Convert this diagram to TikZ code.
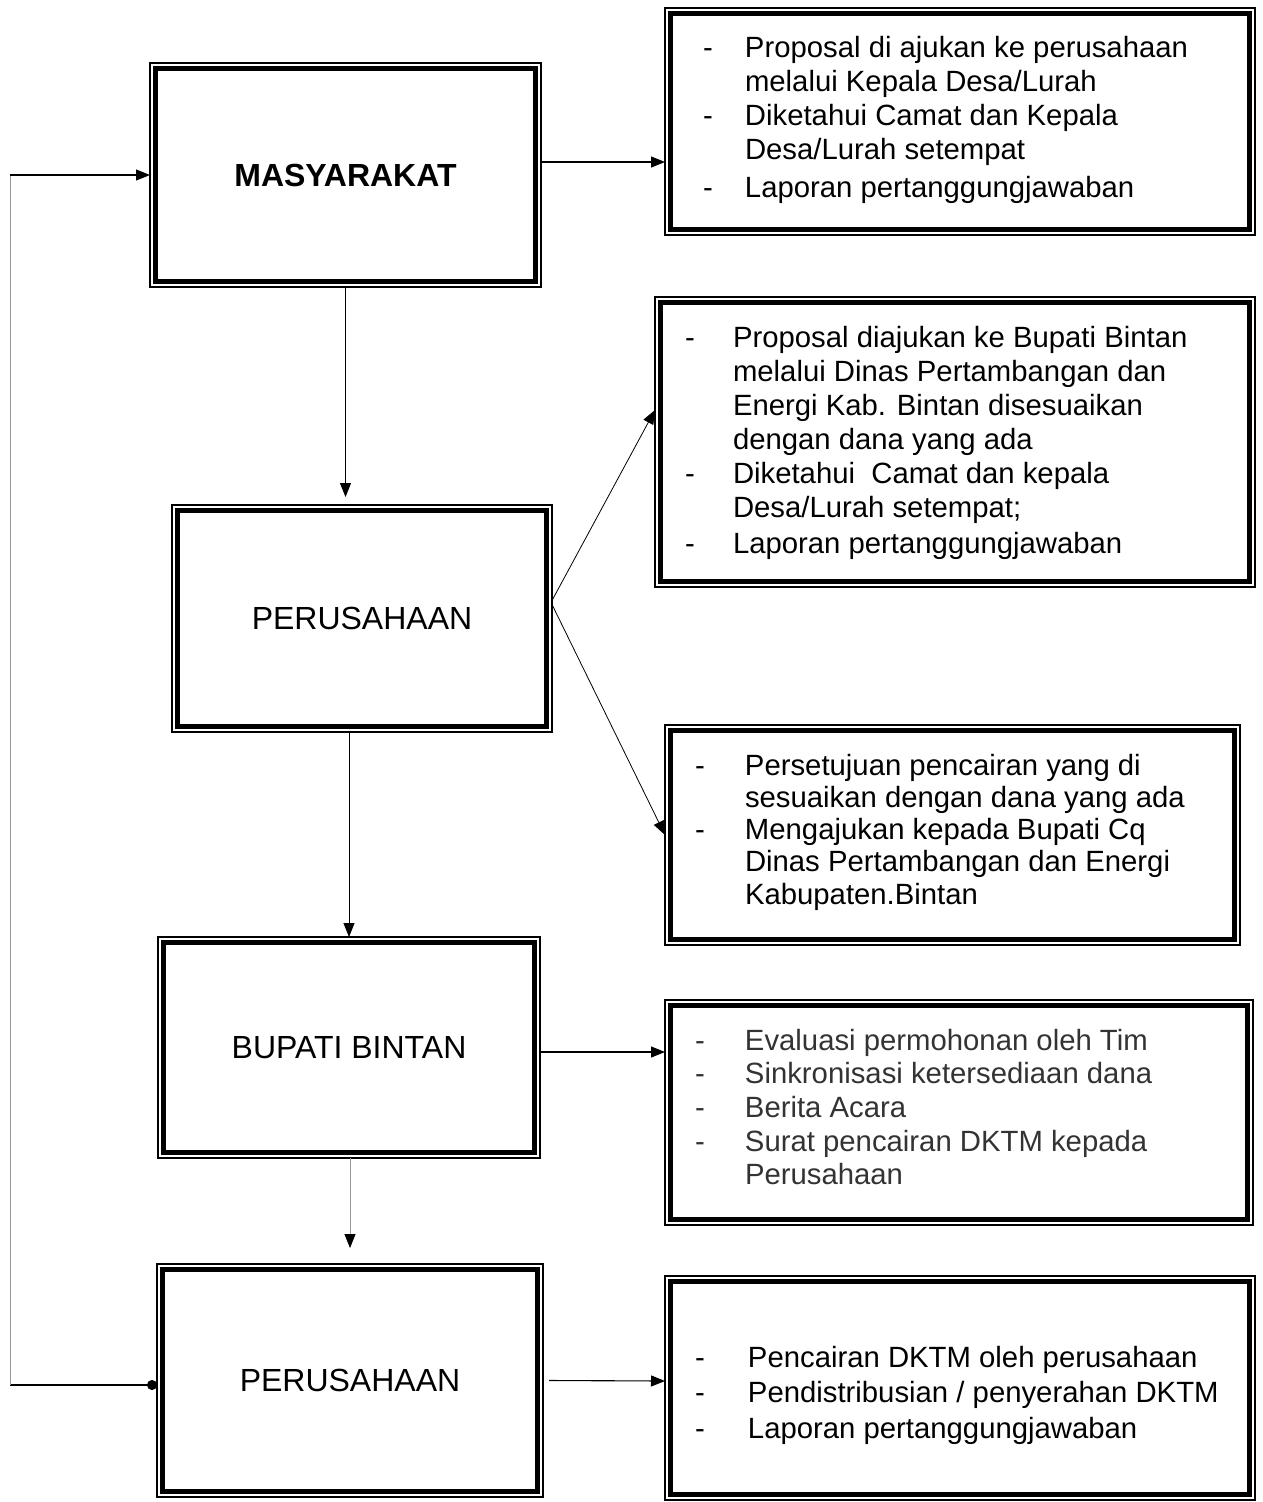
\documentclass[tikz,border=0pt]{standalone}
\usepackage{fontspec}
\setmainfont{Liberation Sans}
\usetikzlibrary{arrows.meta}
\begin{document}
\begin{tikzpicture}[x=1pt,y=-1pt,
  frame/.style={draw, line width=1.2pt, inner sep=0pt, outer sep=0pt, font=\fontsize{32}{38}\selectfont},
  innerframe/.style={line width=5pt},
  item/.style={anchor=base west, inner sep=0pt, outer sep=0pt, align=left, font=\fontsize{29.3}{34}\selectfont},
  arr/.style={line width=1.1pt, -{Triangle[length=14pt,width=11pt]}},
  thinarr/.style={line width=0.8pt, -{Triangle[length=14pt,width=11pt]}},
  plain/.style={line width=1.1pt},
  faint/.style={line width=0.8pt, black!40}
]
\useasboundingbox (0,0) rectangle (1262,1502);

% left boxes
\node[frame, minimum width=391pt, minimum height=224pt] (b1) at (345.5,175) {\bfseries MASYARAKAT};
\node[frame, minimum width=380pt, minimum height=227pt] (b2) at (362,618.5) {PERUSAHAAN};
\node[frame, minimum width=382pt, minimum height=221pt] (b3) at (349,1047.5) {BUPATI BINTAN};
\node[frame, minimum width=386pt, minimum height=233pt] (b4) at (350,1380.5) {PERUSAHAAN};

% right boxes
\node[frame, minimum width=590pt, minimum height=227pt] (rA) at (960,121.5) {};
\node[frame, minimum width=600pt, minimum height=290pt] (rB) at (955,442) {};
\node[frame, minimum width=575pt, minimum height=220pt] (rC) at (952.5,835) {};
\node[frame, minimum width=588pt, minimum height=225pt] (rD) at (959,1112.5) {};
\node[frame, minimum width=590pt, minimum height=224pt] (rE) at (960,1388) {};

\foreach \n in {b1,b2,b3,b4,rA,rB,rC,rD,rE}
  \draw[innerframe] ([shift={(5.5,5.5)}]\n.north west) rectangle ([shift={(-5.5,-5.5)}]\n.south east);

% texts
\node[item] (tA) at (703,57) {\begin{tabular}[t]{@{}p{42pt}@{}l@{}}
-& Proposal di ajukan ke perusahaan\\
 & melalui Kepala Desa/Lurah\\
-& Diketahui Camat dan Kepala\\
 & Desa/Lurah setempat\\[4pt]
-& Laporan pertanggungjawaban
\end{tabular}};

\node[item] (tB) at (685,347) {\begin{tabular}[t]{@{}p{48pt}@{}l@{}}
-& Proposal diajukan ke Bupati Bintan\\
 & melalui Dinas Pertambangan dan\\
 & Energi Kab. Bintan disesuaikan\\
 & dengan dana yang ada\\
-& Diketahui\ \ Camat dan kepala\\
 & Desa/Lurah setempat;\\[2pt]
-& Laporan pertanggungjawaban
\end{tabular}};

\node[item, font=\fontsize{29.3}{32.3}\selectfont] (tC) at (695,775) {\begin{tabular}[t]{@{}p{50pt}@{}l@{}}
-& Persetujuan pencairan yang di\\
 & sesuaikan dengan dana yang ada\\
-& Mengajukan kepada Bupati Cq\\
 & Dinas Pertambangan dan Energi\\
 & Kabupaten.Bintan
\end{tabular}};

\node[item, text=black!80, font=\fontsize{29.3}{33.7}\selectfont] (tD) at (695,1050) {\begin{tabular}[t]{@{}p{50pt}@{}l@{}}
-& Evaluasi permohonan oleh Tim\\
-& Sinkronisasi ketersediaan dana\\
-& Berita Acara\\
-& Surat pencairan DKTM kepada\\
 & Perusahaan
\end{tabular}};

\node[item, font=\fontsize{29.3}{35.5}\selectfont] (tE) at (695,1367) {\begin{tabular}[t]{@{}p{53pt}@{}l@{}}
-& Pencairan DKTM oleh perusahaan\\
-& Pendistribusian / penyerahan DKTM\\
-& Laporan pertanggungjawaban
\end{tabular}};

% connectors
\draw[arr] ([shift={(0,-13)}]b1.east) -- ([shift={(0,40.5)}]rA.west);
\draw[thinarr, shorten >=8pt] (b1.south) -- (b1.south |- b2.north);
\draw[thinarr] ([shift={(0,-18)}]b2.east) -- ([shift={(0,-32)}]rB.west);
\draw[thinarr] ([shift={(0,-14)}]b2.east) -- (rC.west);
\draw[thinarr] (b3.north |- b2.south) -- (b3.north);
\draw[arr] ([shift={(0,4.5)}]b3.east) -- ([shift={(0,-60.5)}]rD.west);
\draw[faint, -{Triangle[length=14pt,width=11pt,black]}, shorten >=16pt] (b4.north |- b3.south) -- (b4.north);
\draw[arr] ([shift={(6,0)}]b4.east) -- ([shift={(0,-7)}]rE.west);

\coordinate (c1) at (10,1385);
\coordinate (c2) at (10,175);
\draw[plain, {Circle[length=10pt]}-] ([shift={(0,4.5)}]b4.west) -- (c1);
\draw[faint] (c1) -- (c2);
\draw[arr] (c2) -- (b1.west);
\end{tikzpicture}
\end{document}
